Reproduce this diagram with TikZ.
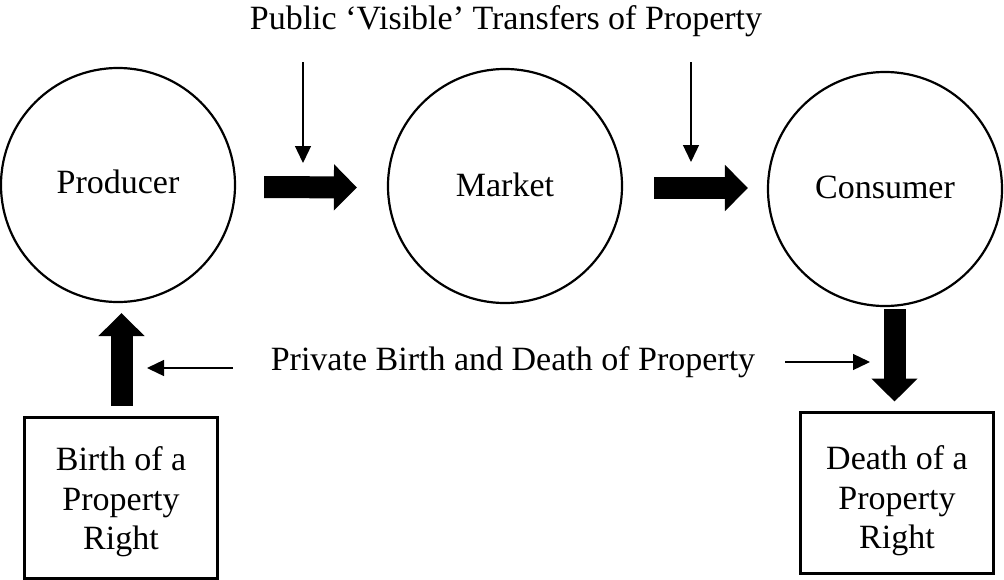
\documentclass[tikz,border=0pt]{standalone}
\usepackage{fontspec}
\setmainfont{Liberation Serif}
\usetikzlibrary{arrows.meta}
\begin{document}
\begin{tikzpicture}[x=1pt,y=-1pt,
  every node/.style={font=\fontsize{34}{39.5}\selectfont, inner sep=0pt},
  circ/.style={circle, draw, line width=2.2pt, minimum size=234pt},
  rbox/.style={rectangle, draw, line width=3pt, minimum width=193pt, minimum height=161pt},
  boxtext/.style={align=center},
  bigarrow/.style={line width=22pt, -{Triangle[width=45pt,length=23pt]}},
  thinarrow/.style={line width=1.3pt, -{Triangle[width=16pt,length=17pt]}}]
\useasboundingbox (0,0) rectangle (1004,579);
\node[circ] (prod) at (118,185) {};
\node (prodt) at (118,182) {Producer};
\node[circ] (mkt) at (505,186) {};
\node (mktt) at (505,185) {Market};
\node[circ] (cons) at (885,189) {};
\node (const) at (885,187) {Consumer};
\node[rbox] (birth) at (120.5,497.5) {};
\node[boxtext] (birtht) at (121,502) {Birth of a\\Property\\Right};
\node[rbox] (death) at (896.5,492.5) {};
\node[boxtext] (deatht) at (897,501) {Death of a\\Property\\Right};
\node[anchor=base] (pub) at (506,29) {Public ‘Visible’ Transfers of Property};
\node (priv) at (513,362) {Private Birth and Death of Property};
% block arrows
\draw[bigarrow] ([xshift=28pt,yshift=-2pt]prod.east) -- ([xshift=-30pt,yshift=-1.5pt]mkt.west);
\draw[bigarrow] ([xshift=31pt,yshift=-2pt]mkt.east) -- ([xshift=-19pt,yshift=1pt]cons.west);
\draw[bigarrow] ([xshift=1pt,yshift=10pt]birth.north) -- ([xshift=3.5pt,yshift=-10pt]prod.south);
\draw[bigarrow] ([xshift=9.5pt,yshift=-2pt]cons.south) -- ([xshift=-2pt,yshift=9pt]death.north);
% thin arrows
\coordinate (t1s) at (303,62);
\coordinate (t1e) at (303,163);
\coordinate (t2s) at (691,62);
\coordinate (t2e) at (691,162);
\draw[thinarrow] (t1s) -- (t1e);
\draw[thinarrow] (t2s) -- (t2e);
\coordinate (b1e) at (147,368);
\coordinate (b2e) at (870,362);
\draw[thinarrow] ([xshift=-38pt,yshift=-6pt]priv.west) -- (b1e);
\draw[thinarrow] ([xshift=30pt]priv.east) -- (b2e);
\end{tikzpicture}
\end{document}
